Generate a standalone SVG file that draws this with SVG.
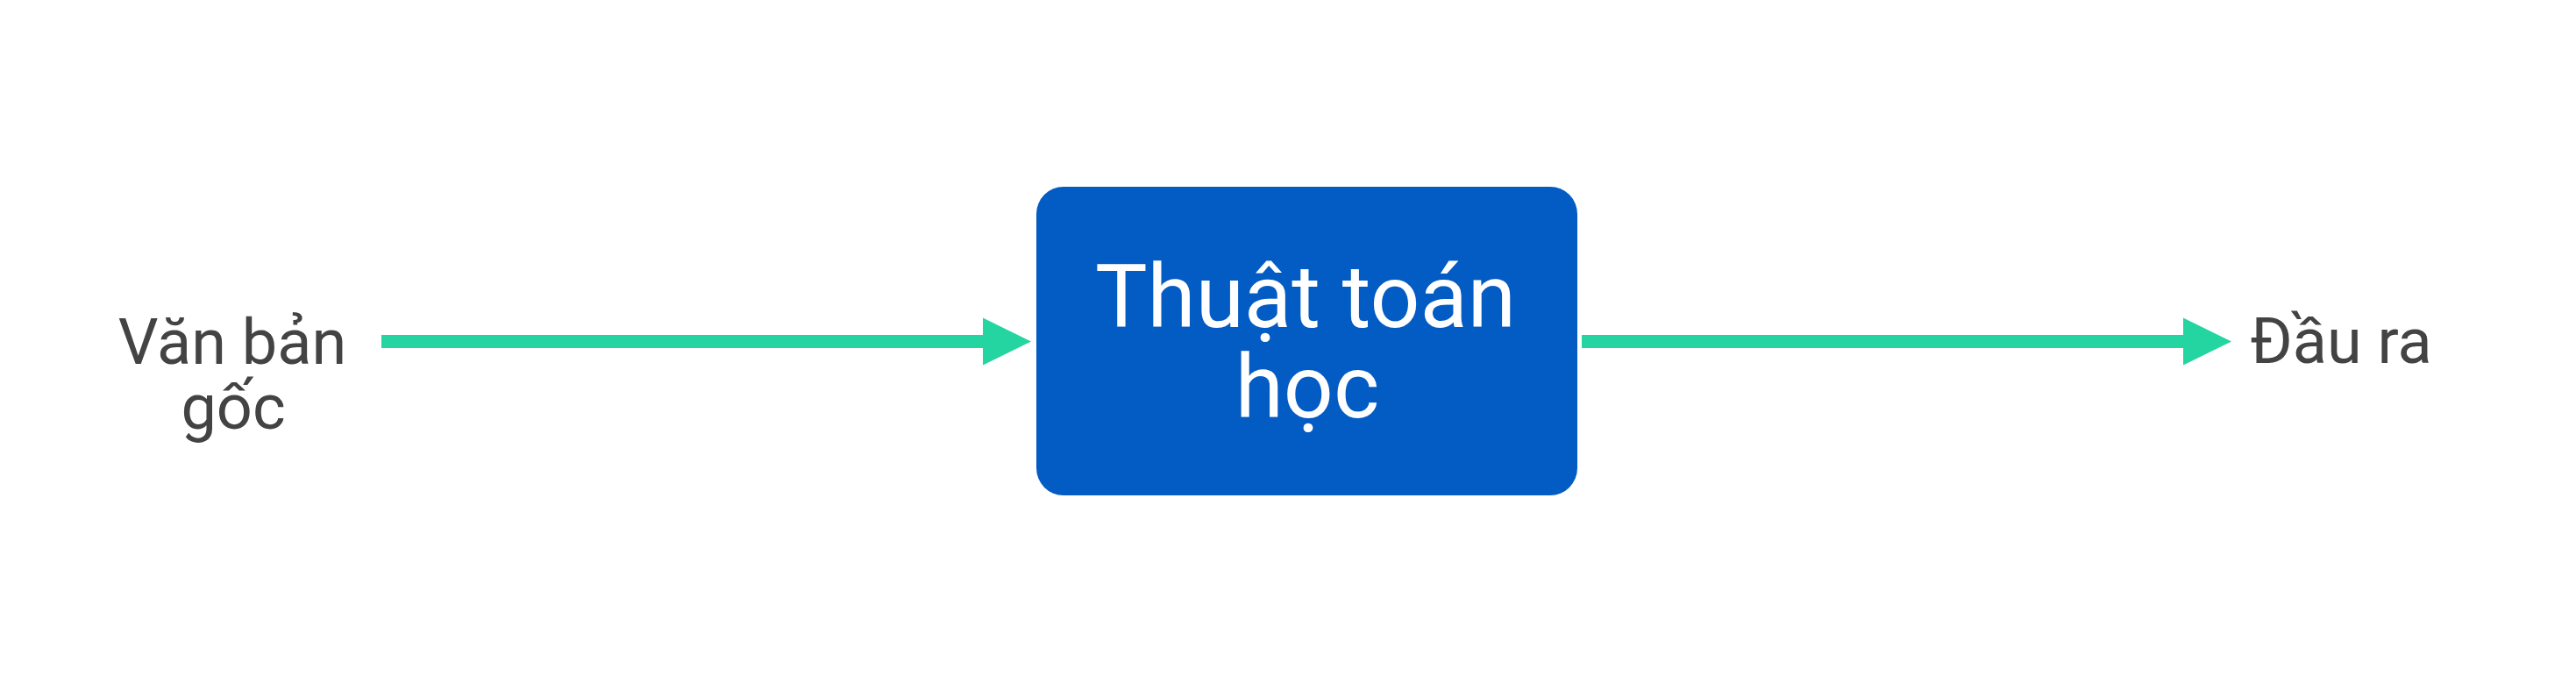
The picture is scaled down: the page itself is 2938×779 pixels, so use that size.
<svg xmlns="http://www.w3.org/2000/svg" width="2938" height="779" viewBox="0 0 2938 779">
  <defs>
    <style>
      .label { font-family: Roboto, "Open Sans", "Liberation Sans", sans-serif; font-size: 72px; fill: #434343; text-anchor: middle; }
      .node-text { font-family: Roboto, "Open Sans", "Liberation Sans", sans-serif; font-size: 100px; fill: #ffffff; text-anchor: middle; }
      .conn { stroke: #25D5A1; stroke-width: 15; fill: none; marker-end: url(#arrow); }
    </style>
    <marker id="arrow" markerUnits="userSpaceOnUse" markerWidth="56" markerHeight="56" refX="0" refY="27" orient="auto" viewBox="0 0 56 54">
      <path d="M0,0 L55,27 L0,54 Z" fill="#25D5A1"/>
    </marker>
  </defs>
  <rect width="2938" height="779" fill="#ffffff"/>
  <g id="input">
    <text class="label"><tspan x="265" y="415">Văn bản</tspan><tspan x="266" y="489">gốc</tspan></text>
  </g>
  <g id="algorithm">
    <rect x="1182" y="213" width="617" height="352" rx="31" ry="31" fill="#035BC4"/>
    <text class="node-text"><tspan x="1489" y="373">Thuật toán</tspan><tspan x="1491" y="476">học</tspan></text>
  </g>
  <g id="output">
    <text class="label" x="2670" y="414">Đầu ra</text>
  </g>
  <g id="connectors">
    <line class="conn" x1="435" y1="389.5" x2="1121" y2="389.5"/>
    <line class="conn" x1="1804" y1="389.5" x2="2490" y2="389.5"/>
  </g>
</svg>
